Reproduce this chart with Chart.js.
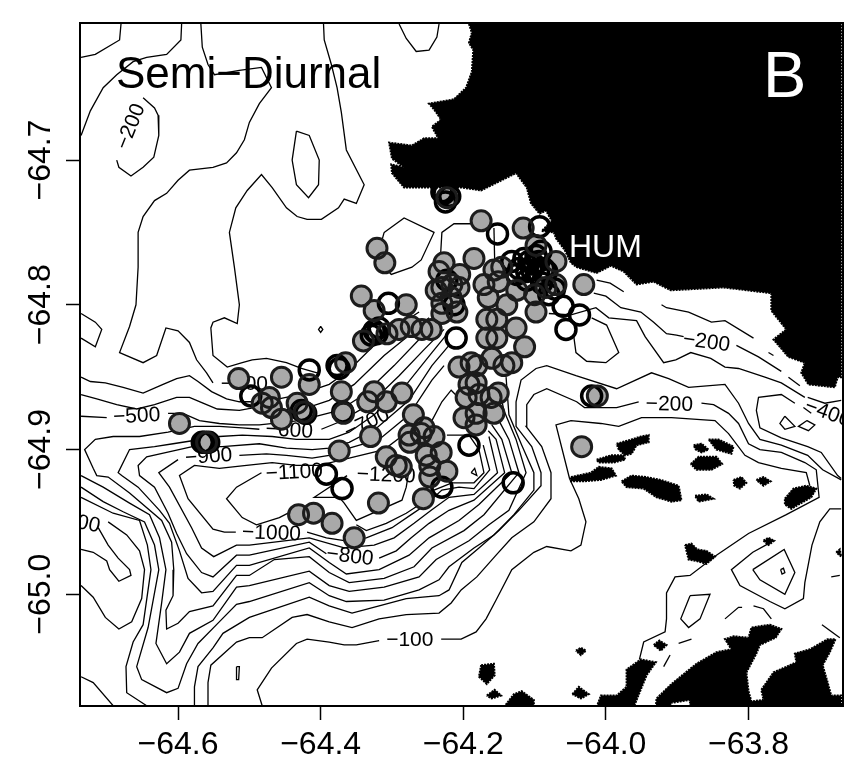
<!DOCTYPE html>
<html>
<head>
<meta charset="utf-8">
<style>html,body{margin:0;padding:0;background:#fff}canvas{display:block}</style>
<script src="https://cdn.jsdelivr.net/npm/chart.js@4"></script>
</head>
<body>
<canvas id="map" width="845" height="764"></canvas>
<script>
// axis ticks
const lonTicks = [-64.6, -64.4, -64.2, -64.0, -63.8];
const latTicks = [-64.7, -64.8, -64.9, -65.0];

// stations, flat lon,lat pairs
const stationsFilled = [-64.321,-64.761,-64.310,-64.771,-64.343,-64.794,-64.325,-64.804,-64.280,-64.800,-64.340,-64.825,-64.307,-64.820,-64.290,-64.817,-64.273,-64.815,-64.245,-64.817,-64.258,-64.817,-64.227,-64.771,-64.234,-64.777,-64.205,-64.779,-64.185,-64.768,-64.223,-64.726,-64.175,-64.742,-64.116,-64.747,-64.098,-64.759,-64.070,-64.770,-64.031,-64.786,-64.100,-64.793,-64.098,-64.805,-64.126,-64.816,-64.114,-64.829,-64.167,-64.810,-64.153,-64.810,-64.167,-64.823,-64.153,-64.823,-64.139,-64.800,-64.125,-64.790,-64.157,-64.776,-64.146,-64.774,-64.238,-64.790,-64.230,-64.788,-64.216,-64.786,-64.206,-64.788,-64.217,-64.795,-64.230,-64.799,-64.209,-64.805,-64.230,-64.806,-64.171,-64.786,-64.151,-64.784,-64.165,-64.795,-64.084,-64.788,-64.070,-64.786,
  -64.206,-64.843,-64.189,-64.840,-64.181,-64.842,-64.160,-64.837,-64.132,-64.840,-64.143,-64.842,-64.192,-64.855,-64.182,-64.854,-64.196,-64.864,-64.178,-64.862,-64.151,-64.861,-64.161,-64.864,-64.199,-64.878,-64.182,-64.875,-64.157,-64.875,-64.182,-64.883,-64.286,-64.861,-64.270,-64.876,-64.255,-64.885,-64.276,-64.890,-64.275,-64.895,-64.241,-64.891,-64.259,-64.889,-64.231,-64.902,-64.252,-64.904,-64.247,-64.911,-64.223,-64.915,-64.247,-64.919,-64.256,-64.934,-64.287,-64.912,-64.012,-64.863,-64.034,-64.898,
  -64.515,-64.851,-64.455,-64.850,-64.416,-64.855,-64.371,-64.860,-64.365,-64.840,-64.472,-64.864,-64.482,-64.868,-64.469,-64.871,-64.455,-64.879,-64.433,-64.868,-64.423,-64.874,-64.368,-64.875,-64.598,-64.882,-64.560,-64.895,-64.330,-64.891,-64.374,-64.901,-64.325,-64.860,-64.334,-64.867,-64.308,-64.867,-64.308,-64.905,-64.294,-64.911,-64.319,-64.937,-64.431,-64.945,-64.410,-64.944,-64.384,-64.951,-64.353,-64.961];
const stationsOpen = [-64.416,-64.845,-64.498,-64.863,-64.374,-64.844,-64.392,-64.917,-64.370,-64.927,-64.230,-64.926,-64.192,-64.897,-64.130,-64.923,-64.152,-64.751,-64.060,-64.801,-64.037,-64.807,-64.056,-64.817,-64.210,-64.823,-64.305,-64.799,
  -64.227,-64.723,-64.230,-64.722,-64.219,-64.725,-64.225,-64.729,-64.020,-64.863,-64.563,-64.895,-64.557,-64.895,-64.566,-64.895,-64.377,-64.842,-64.369,-64.874,-64.427,-64.873,-64.421,-64.875,
  -64.325,-64.818,-64.321,-64.820,-64.329,-64.821,-64.318,-64.816,-64.115,-64.768,-64.108,-64.770,-64.101,-64.772,-64.094,-64.770,-64.087,-64.775,-64.104,-64.776,-64.111,-64.777,-64.094,-64.779,-64.083,-64.777,-64.122,-64.775,-64.098,-64.766,-64.091,-64.763,-64.132,-64.770,-64.080,-64.793,-64.072,-64.789,-64.093,-64.746,-64.125,-64.779,-64.111,-64.783,-64.090,-64.785,-64.223,-64.783,-64.213,-64.800];

// isobaths (flat lon,lat pairs), pieces are split where a label sits
const cornerTopLeft = [-64.736,-64.629,-64.716,-64.627,-64.682,-64.617,-64.680,-64.606];
const shelfTop1 = [-64.595,-64.606,-64.596,-64.617,-64.616,-64.627,-64.644,-64.629,-64.663,-64.632,-64.686,-64.641,-64.705,-64.650,-64.723,-64.666,-64.736,-64.683];
const shelfTop2 = [-64.568,-64.606,-64.566,-64.622,-64.558,-64.634,-64.549,-64.641,-64.514,-64.638,-64.483,-64.636,-64.469,-64.650,-64.486,-64.661,-64.500,-64.674,-64.507,-64.686,-64.518,-64.695,-64.532,-64.702,-64.551,-64.705,-64.584,-64.707,-64.600,-64.714,-64.616,-64.723,-64.633,-64.728,-64.649,-64.739,-64.656,-64.750,-64.656,-64.774,-64.659,-64.800,-64.668,-64.815,-64.682,-64.833,-64.649,-64.840,-64.630,-64.835,-64.617,-64.816,-64.600,-64.818,-64.584,-64.826,-64.574,-64.838,-64.560,-64.847,-64.551,-64.854];
const shelfTop3 = [-64.396,-64.606,-64.395,-64.617,-64.385,-64.634,-64.377,-64.650,-64.371,-64.667,-64.364,-64.693,-64.339,-64.717,-64.350,-64.730,-64.367,-64.727,-64.375,-64.733,-64.399,-64.741,-64.419,-64.741,-64.433,-64.739,-64.448,-64.733,-64.468,-64.719,-64.483,-64.710,-64.503,-64.721,-64.519,-64.733,-64.528,-64.750,-64.521,-64.774,-64.514,-64.800,-64.517,-64.813,-64.535,-64.809,-64.551,-64.812,-64.554,-64.816,-64.551,-64.835,-64.531,-64.843,-64.510,-64.840,-64.496,-64.838,-64.476,-64.837,-64.448,-64.840,-64.427,-64.844,-64.405,-64.847];
const topBay = [-64.290,-64.606,-64.280,-64.616,-64.266,-64.625,-64.248,-64.624,-64.237,-64.615,-64.234,-64.606];
const ring200 = [-64.649,-64.657,-64.633,-64.664,-64.628,-64.669,-64.627,-64.683,-64.634,-64.698,-64.649,-64.705,-64.666,-64.711,-64.683,-64.705,-64.686,-64.700];
const ringA = [-64.434,-64.680,-64.416,-64.683,-64.402,-64.700,-64.403,-64.717,-64.417,-64.726,-64.434,-64.717,-64.440,-64.700,-64.434,-64.680];
const ringB = [-64.736,-64.806,-64.716,-64.812,-64.707,-64.817,-64.716,-64.829,-64.736,-64.823];
const ringC = [-64.400,-64.815,-64.397,-64.817,-64.400,-64.819,-64.403,-64.817,-64.400,-64.815];
const ringD = [-64.311,-64.750,-64.283,-64.740,-64.241,-64.750,-64.259,-64.769,-64.272,-64.774,-64.301,-64.779,-64.321,-64.768,-64.311,-64.750];
const clusterA = [-64.189,-64.744,-64.213,-64.744,-64.230,-64.750,-64.232,-64.767,-64.234,-64.783];
const clusterB = [-64.157,-64.747,-64.156,-64.769];
const iso300 = [-64.736,-64.850,-64.723,-64.853,-64.702,-64.854,-64.677,-64.857,-64.649,-64.861,-64.621,-64.855,-64.602,-64.851,-64.584,-64.849,-64.572,-64.853,-64.553,-64.860,-64.532,-64.865,-64.514,-64.867,-64.479,-64.867,-64.430,-64.862,-64.388,-64.855,-64.360,-64.845,-64.325,-64.828,-64.290,-64.814,-64.262,-64.805];
const iso400 = [-64.736,-64.862,-64.714,-64.865,-64.686,-64.869,-64.658,-64.872,-64.633,-64.869,-64.602,-64.864,-64.584,-64.864,-64.565,-64.868,-64.545,-64.872,-64.514,-64.873,-64.493,-64.871,-64.430,-64.873,-64.388,-64.866,-64.353,-64.855,-64.311,-64.835,-64.276,-64.821,-64.248,-64.809];
const iso500a = [-64.736,-64.877,-64.700,-64.878];
const iso500b = [-64.614,-64.875,-64.593,-64.875,-64.570,-64.880,-64.542,-64.882,-64.514,-64.883,-64.486,-64.883,-64.430,-64.880,-64.374,-64.873,-64.339,-64.862,-64.297,-64.842,-64.262,-64.824,-64.234,-64.812];
const iso600a = [-64.399,-64.886,-64.374,-64.881,-64.332,-64.869,-64.290,-64.849,-64.255,-64.831,-64.227,-64.817];
const iso600b = [-64.486,-64.886,-64.510,-64.885,-64.542,-64.884,-64.577,-64.884,-64.614,-64.888,-64.654,-64.891,-64.691,-64.891,-64.716,-64.893,-64.731,-64.900,-64.719,-64.913,-64.714,-64.918,-64.698,-64.919,-64.668,-64.930,-64.623,-64.949,-64.609,-64.964,-64.606,-64.983,-64.607,-65.001,-64.617,-65.011,-64.616,-65.024,-64.600,-65.020,-64.584,-65.012,-64.551,-65.008,-64.518,-64.987,-64.500,-64.987,-64.465,-64.976,-64.416,-64.974,-64.388,-64.985,-64.360,-64.992,-64.311,-64.989,-64.269,-64.981,-64.244,-64.968,-64.199,-64.956,-64.171,-64.945,-64.122,-64.916,-64.136,-64.893,-64.150,-64.880];
const iso700 = [-64.224,-64.821,-64.244,-64.833,-64.283,-64.857,-64.325,-64.876,-64.360,-64.888,-64.388,-64.893,-64.434,-64.893,-64.468,-64.891,-64.510,-64.890,-64.542,-64.891,-64.607,-64.896,-64.633,-64.898,-64.668,-64.900,-64.684,-64.916,-64.679,-64.918,-64.656,-64.926,-64.626,-64.942,-64.612,-64.951,-64.598,-64.970,-64.586,-64.989,-64.567,-64.999,-64.551,-64.998,-64.518,-64.980,-64.500,-64.980,-64.416,-64.968,-64.388,-64.978,-64.364,-64.986,-64.318,-64.983,-64.276,-64.973,-64.248,-64.961,-64.206,-64.949,-64.178,-64.938,-64.132,-64.916,-64.146,-64.893,-64.160,-64.883];
const iso800a = [-64.220,-64.828,-64.244,-64.842,-64.276,-64.866,-64.321,-64.885,-64.360,-64.895,-64.388,-64.899,-64.412,-64.900,-64.448,-64.899,-64.486,-64.896,-64.538,-64.898,-64.580,-64.898,-64.616,-64.902,-64.644,-64.905,-64.656,-64.911,-64.654,-64.918,-64.633,-64.926,-64.614,-64.944,-64.602,-64.958,-64.588,-64.972,-64.567,-64.985,-64.551,-64.988,-64.518,-64.973,-64.500,-64.973,-64.416,-64.964,-64.392,-64.972];
const iso800b = [-64.318,-64.975,-64.294,-64.970,-64.273,-64.961,-64.248,-64.951,-64.220,-64.942,-64.185,-64.935,-64.142,-64.916,-64.154,-64.893,-64.165,-64.887];
const iso900a = [-64.227,-64.842,-64.244,-64.852,-64.276,-64.876,-64.318,-64.893,-64.360,-64.899,-64.388,-64.904,-64.412,-64.906,-64.448,-64.904,-64.476,-64.903,-64.514,-64.904];
const iso900b = [-64.600,-64.907,-64.627,-64.916,-64.612,-64.926,-64.581,-64.954,-64.567,-64.968,-64.550,-64.974,-64.518,-64.966,-64.500,-64.966,-64.416,-64.961,-64.367,-64.968,-64.325,-64.966,-64.297,-64.961,-64.269,-64.951,-64.245,-64.942,-64.220,-64.933,-64.185,-64.931,-64.152,-64.916,-64.164,-64.891];
const iso1000a = [-64.279,-64.888,-64.311,-64.900,-64.360,-64.906,-64.402,-64.911,-64.434,-64.911,-64.468,-64.909,-64.504,-64.911,-64.542,-64.913,-64.577,-64.911,-64.598,-64.918,-64.586,-64.934,-64.551,-64.955,-64.535,-64.957,-64.519,-64.957];
const iso1000b = [-64.419,-64.957,-64.392,-64.961,-64.367,-64.963,-64.336,-64.961,-64.300,-64.954,-64.273,-64.945,-64.252,-64.938,-64.230,-64.928,-64.206,-64.926,-64.185,-64.927,-64.163,-64.914,-64.172,-64.897];
const iso1100a = [-64.483,-64.916,-64.518,-64.926,-64.532,-64.934,-64.510,-64.947,-64.490,-64.952,-64.458,-64.947,-64.430,-64.940];
const iso1100b = [-64.350,-64.952,-64.336,-64.956,-64.308,-64.951,-64.280,-64.944,-64.258,-64.937,-64.241,-64.928,-64.216,-64.923,-64.185,-64.923,-64.171,-64.916,-64.178,-64.900,-64.192,-64.890,-64.223,-64.890];
const iso1100c = [-64.255,-64.890,-64.244,-64.880,-64.230,-64.867,-64.217,-64.859,-64.209,-64.863];
const iso1200 = [-64.363,-64.918,-64.409,-64.933,-64.374,-64.933,-64.367,-64.937,-64.350,-64.949,-64.286,-64.935,-64.280,-64.926,-64.276,-64.914];
const slopeA = [-64.736,-64.918,-64.705,-64.926,-64.668,-64.937,-64.640,-64.945,-64.626,-64.961,-64.617,-64.983,-64.623,-65.006,-64.631,-65.034,-64.616,-65.048,-64.598,-65.040,-64.584,-65.027,-64.551,-65.018,-64.518,-64.995,-64.500,-64.994,-64.416,-64.984,-64.388,-64.994,-64.360,-64.998,-64.311,-64.995,-64.262,-64.988,-64.238,-64.976,-64.192,-64.963,-64.164,-64.952,-64.136,-64.942,-64.112,-64.916,-64.126,-64.893,-64.143,-64.873,-64.151,-64.855];
const slopeB = [-64.736,-64.926,-64.705,-64.936,-64.677,-64.943,-64.647,-64.950,-64.633,-64.966,-64.627,-64.983,-64.642,-65.023,-64.658,-65.050,-64.651,-65.059,-64.616,-65.068,-64.600,-65.065,-64.588,-65.048,-64.572,-65.034,-64.546,-65.021,-64.518,-65.007,-64.500,-65.005,-64.416,-64.992,-64.388,-65.001,-64.364,-65.005,-64.311,-65.004,-64.262,-64.997,-64.234,-64.990,-64.220,-64.981,-64.185,-64.968,-64.157,-64.959,-64.129,-64.945,-64.101,-64.928,-64.101,-64.916,-64.118,-64.897,-64.136,-64.876,-64.140,-64.850];
const slopeC = [-64.736,-64.933,-64.691,-64.944,-64.654,-64.949,-64.643,-64.966,-64.638,-64.983,-64.649,-65.021,-64.663,-65.033,-64.673,-65.050,-64.672,-65.068,-64.644,-65.077];
const slopeD = [-64.577,-65.077,-64.577,-65.064,-64.572,-65.050,-64.551,-65.037,-64.537,-65.027,-64.500,-65.016,-64.416,-65.002,-64.388,-65.008,-64.356,-65.013,-64.318,-65.008,-64.280,-65.003,-64.234,-65.001,-64.220,-64.997,-64.202,-64.978,-64.178,-64.968,-64.150,-64.956,-64.122,-64.942,-64.091,-64.925,-64.091,-64.916,-64.104,-64.898,-64.126,-64.884,-64.126,-64.867,-64.119,-64.852,-64.098,-64.844,-64.083,-64.842,-64.042,-64.849,-63.985,-64.858,-63.936,-64.847,-63.912,-64.851,-63.884,-64.857,-63.833,-64.855,-63.814,-64.868,-63.800,-64.882,-63.784,-64.893,-63.754,-64.897,-63.717,-64.904,-63.696,-64.914,-63.670,-64.921];
const iso200a = [-64.558,-65.077,-64.558,-65.061,-64.554,-65.049,-64.518,-65.033,-64.500,-65.030,-64.482,-65.030,-64.440,-65.016,-64.419,-65.014,-64.388,-65.019,-64.356,-65.023,-64.318,-65.017,-64.280,-65.014,-64.234,-65.013,-64.217,-65.006,-64.203,-64.997,-64.181,-64.988,-64.154,-64.973,-64.132,-64.961,-64.101,-64.950,-64.077,-64.934,-64.077,-64.916,-64.090,-64.898,-64.112,-64.884,-64.111,-64.869,-64.101,-64.862,-64.083,-64.858,-64.041,-64.867,-64.030,-64.871,-63.985,-64.871,-63.954,-64.867];
const iso200b = [-63.866,-64.868,-63.849,-64.869,-63.828,-64.875,-63.814,-64.882,-63.800,-64.896,-63.784,-64.900,-63.754,-64.902,-63.721,-64.909,-63.705,-64.914,-63.701,-64.933,-63.747,-64.945,-63.800,-64.958,-63.845,-64.973,-63.882,-64.987,-63.903,-64.988,-63.915,-64.999,-63.915,-65.017,-63.917,-65.026,-63.947,-65.033,-63.953,-65.045];
const iso100a = [-64.482,-65.077,-64.489,-65.066,-64.469,-65.051,-64.434,-65.034,-64.419,-65.031,-64.388,-65.033,-64.367,-65.035,-64.350,-65.035,-64.318,-65.032];
const iso100b = [-64.231,-65.031,-64.203,-65.031,-64.182,-65.026,-64.168,-65.017,-64.154,-65.004,-64.132,-64.983,-64.101,-64.971,-64.083,-64.967,-64.049,-64.970,-64.035,-64.966,-64.028,-64.950,-64.038,-64.934,-64.051,-64.920,-64.070,-64.883,-64.049,-64.880,-64.007,-64.882,-63.982,-64.884,-63.950,-64.878,-63.908,-64.878,-63.847,-64.880,-63.828,-64.889,-63.805,-64.904,-63.786,-64.909,-63.754,-64.913,-63.719,-64.916,-63.714,-64.925];
const loopE1 = [-63.670,-64.941,-63.686,-64.941,-63.700,-64.950,-63.711,-64.966,-63.721,-64.992,-63.723,-65.003,-63.749,-65.010,-63.770,-65.005,-63.812,-64.994,-63.824,-64.983,-63.794,-64.971,-63.772,-64.965];
const loopE2 = [-63.794,-64.983,-63.750,-64.969,-63.735,-64.985,-63.749,-65.000,-63.784,-64.990,-63.794,-64.983];
const loopE3 = [-63.755,-64.983,-63.751,-64.982,-63.749,-64.985,-63.753,-64.986,-63.755,-64.983];
const loopE4 = [-63.882,-65.001,-63.854,-65.000,-63.868,-65.017,-63.884,-65.023,-63.895,-65.017,-63.882,-65.001];
const dash1 = [-63.833,-65.017,-63.814,-65.009,-63.809,-65.009];
const dash2 = [-63.793,-65.008,-63.779,-65.010,-63.768,-65.017];
const dash3 = [-63.898,-65.034,-63.880,-65.031];
const dash4 = [-63.919,-65.050,-63.910,-65.042];
const dash5 = [-63.697,-65.021,-63.672,-65.030];
const dash6 = [-63.684,-64.988,-63.672,-64.987];
const iso400loop = [-63.735,-64.868,-63.754,-64.862,-63.786,-64.864,-63.789,-64.873,-63.784,-64.885,-63.754,-64.892,-63.717,-64.898,-63.698,-64.902,-63.675,-64.918,-63.670,-64.920];
const iso400tick = [-63.723,-64.871,-63.712,-64.875];
const diamond1 = [-63.749,-64.877,-63.735,-64.884,-63.749,-64.886,-63.756,-64.882,-63.749,-64.877];
const diamond2 = [-63.718,-64.880,-63.707,-64.883,-63.716,-64.887,-63.730,-64.884,-63.718,-64.880];
const coastA = [-63.922,-64.800,-63.915,-64.802,-63.884,-64.805,-63.852,-64.812,-63.833,-64.811,-63.793,-64.823];
const coastB = [-63.772,-64.833,-63.765,-64.835];
const coastC = [-63.744,-64.850,-63.728,-64.856];
const coastD = [-63.717,-64.864,-63.693,-64.868,-63.670,-64.866];
const coastE = [-64.017,-64.792,-64.000,-64.794,-63.979,-64.802,-63.951,-64.805,-63.933,-64.812,-63.915,-64.820,-63.901,-64.821,-63.891,-64.822];
const coastF = [-63.817,-64.828,-63.786,-64.836,-63.754,-64.846];
const coastG = [-64.013,-64.783,-63.994,-64.785,-63.975,-64.791];
const coastH = [-64.080,-64.806,-64.049,-64.807,-64.014,-64.802,-63.996,-64.809,-63.957,-64.811,-63.945,-64.822,-63.919,-64.840,-63.902,-64.838,-63.881,-64.833,-63.853,-64.837,-63.833,-64.843,-63.814,-64.844,-63.777,-64.850,-63.754,-64.854,-63.721,-64.864];
const bayLoop = [-64.020,-64.809,-63.999,-64.814,-63.982,-64.833,-64.000,-64.840,-64.027,-64.839,-64.042,-64.833,-64.045,-64.822];
const tinyA = [-64.189,-64.916,-64.184,-64.913,-64.181,-64.918,-64.189,-64.916];
const tinyB = [-64.518,-65.050,-64.514,-65.050,-64.515,-65.059,-64.518,-65.059,-64.518,-65.050];
const westA = [-64.736,-64.969,-64.719,-64.971,-64.700,-64.977,-64.696,-64.983,-64.683,-64.991,-64.666,-64.987,-64.668,-64.983,-64.684,-64.975,-64.698,-64.966,-64.712,-64.954];
const westB = [-64.736,-64.994,-64.719,-65.002,-64.702,-65.016,-64.683,-65.024,-64.665,-65.019,-64.651,-65.003,-64.647,-64.983,-64.654,-64.970,-64.672,-64.959,-64.698,-64.950];
const westC = [-64.736,-65.057,-64.719,-65.061,-64.691,-65.077];

const contours = [cornerTopLeft, shelfTop1, shelfTop2, shelfTop3, topBay, ring200, ringA, ringB, ringC, ringD, clusterA, clusterB, iso300, iso400, iso500a, iso500b, iso600a, iso600b, iso700, iso800a, iso800b, iso900a, iso900b, iso1000a, iso1000b, iso1100a, iso1100b, iso1100c, iso1200, slopeA, slopeB, slopeC, slopeD, iso200a, iso200b, iso100a, iso100b, loopE1, loopE2, loopE3, loopE4, dash1, dash2, dash3, dash4, dash5, dash6, iso400loop, iso400tick, diamond1, diamond2, coastA, coastB, coastC, coastD, coastE, coastF, coastG, coastH, bayLoop, tinyA, tinyB, westA, westB, westC];

// land outlines
const landNorth = [-64.192,-64.606,-64.188,-64.612,-64.192,-64.619,-64.186,-64.624,-64.188,-64.639,-64.196,-64.650,-64.213,-64.658,-64.248,-64.661,-64.241,-64.665,-64.231,-64.672,-64.244,-64.677,-64.235,-64.685,-64.255,-64.685,-64.272,-64.690,-64.304,-64.688,-64.300,-64.699,-64.283,-64.705,-64.301,-64.703,-64.300,-64.709,-64.283,-64.719,-64.255,-64.719,-64.202,-64.719,-64.175,-64.721,-64.126,-64.709,-64.111,-64.719,-64.105,-64.730,-64.093,-64.737,-64.084,-64.735,-64.076,-64.742,-64.090,-64.749,-64.073,-64.750,-64.070,-64.754,-64.058,-64.762,-64.049,-64.771,-64.041,-64.774,-64.013,-64.778,-63.993,-64.773,-63.975,-64.777,-63.957,-64.786,-63.933,-64.784,-63.909,-64.790,-63.835,-64.788,-63.768,-64.792,-63.768,-64.804,-63.747,-64.817,-63.765,-64.824,-63.744,-64.836,-63.721,-64.840,-63.726,-64.847,-63.716,-64.855,-63.679,-64.857,-63.675,-64.850,-63.670,-64.850,-63.670,-64.605,-64.192,-64.605];
const landSouth = [-63.930,-65.078,-63.929,-65.072,-63.908,-65.062,-63.873,-65.048,-63.845,-65.040,-63.824,-65.038,-63.833,-65.031,-63.821,-65.029,-63.800,-65.030,-63.796,-65.023,-63.770,-65.021,-63.754,-65.024,-63.762,-65.030,-63.784,-65.035,-63.789,-65.041,-63.803,-65.054,-63.800,-65.067,-63.796,-65.074,-63.779,-65.073,-63.782,-65.066,-63.765,-65.054,-63.733,-65.047,-63.735,-65.041,-63.714,-65.038,-63.689,-65.031,-63.678,-65.031,-63.686,-65.040,-63.696,-65.049,-63.689,-65.061,-63.684,-65.070,-63.670,-65.070,-63.670,-65.078,-63.882,-65.078,-63.882,-65.073,-63.908,-65.075,-63.910,-65.078];
const island1 = [-63.985,-64.896,-63.964,-64.893,-63.951,-64.891,-63.940,-64.890,-63.940,-64.895,-63.957,-64.897,-63.964,-64.903,-63.973,-64.904,-63.982,-64.900];
const island2 = [-64.013,-64.907,-63.993,-64.904,-63.975,-64.904,-63.973,-64.907,-63.989,-64.909,-64.010,-64.909];
const island3 = [-64.049,-64.919,-64.021,-64.916,-64.010,-64.912,-63.992,-64.913,-63.986,-64.918,-64.007,-64.921,-64.031,-64.922,-64.049,-64.922];
const island4 = [-63.978,-64.922,-63.964,-64.918,-63.944,-64.919,-63.923,-64.921,-63.898,-64.925,-63.894,-64.935,-63.908,-64.936,-63.929,-64.933,-63.947,-64.927,-63.971,-64.926];
const island5 = [-63.877,-64.897,-63.866,-64.896,-63.856,-64.900,-63.866,-64.902,-63.874,-64.900];
const island6 = [-63.856,-64.893,-63.842,-64.893,-63.821,-64.898,-63.824,-64.903,-63.845,-64.900];
const island7 = [-63.881,-64.910,-63.870,-64.905,-63.845,-64.905,-63.837,-64.910,-63.852,-64.914,-63.873,-64.914];
const island8 = [-63.875,-64.932,-63.859,-64.931,-63.849,-64.934,-63.870,-64.936];
const island9 = [-63.821,-64.921,-63.810,-64.919,-63.803,-64.923,-63.812,-64.927,-63.820,-64.925];
const island10 = [-63.789,-64.921,-63.779,-64.919,-63.769,-64.922,-63.779,-64.925];
const island11 = [-63.749,-64.934,-63.737,-64.927,-63.719,-64.925,-63.705,-64.927,-63.712,-64.933,-63.730,-64.938,-63.740,-64.941,-63.749,-64.938];
const island12 = [-63.779,-64.963,-63.772,-64.961,-63.764,-64.963,-63.772,-64.966];
const island13 = [-63.889,-64.966,-63.880,-64.965,-63.872,-64.969,-63.859,-64.970,-63.847,-64.974,-63.859,-64.979,-63.873,-64.977,-63.884,-64.976];
const island14 = [-63.933,-65.035,-63.925,-65.032,-63.915,-65.035,-63.923,-65.039];
const island15 = [-64.042,-65.039,-64.035,-65.037,-64.028,-65.039,-64.035,-65.042];
const island16 = [-64.175,-65.049,-64.157,-65.048,-64.156,-65.056,-64.167,-65.062,-64.178,-65.057];
const island17 = [-64.167,-65.070,-64.156,-65.066,-64.147,-65.070,-64.160,-65.072];
const island18 = [-64.047,-65.069,-64.038,-65.064,-64.024,-65.069,-64.035,-65.072];
const island19 = [-64.143,-65.078,-64.129,-65.069,-64.118,-65.067,-64.101,-65.073,-64.101,-65.078];
const island20 = [-64.013,-65.078,-64.007,-65.070,-63.985,-65.070,-63.971,-65.064,-63.971,-65.052,-63.951,-65.045,-63.930,-65.047,-63.943,-65.056,-63.961,-65.078];
const island21 = [-63.677,-64.971,-63.672,-64.969,-63.670,-64.974];
const land = [landNorth, landSouth, island1, island2, island3, island4, island5, island6, island7, island8, island9, island10, island11, island12, island13, island14, island15, island16, island17, island18, island19, island20, island21];

// contour labels
const labelText = ['\u2212200','\u2212300','\u2212500','\u2212600','\u2212700','\u2212900','\u22121100','\u22121200','\u22121000','\u2212800','\u2212100','\u2212900','\u2212200','\u2212200','\u2212400'];
const labelLon = [-64.666,-64.507,-64.658,-64.444,-64.335,-64.557,-64.437,-64.308,-64.469,-64.359,-64.275,-64.742,-63.911,-63.859,-63.689];
const labelLat = [-64.677,-64.855,-64.877,-64.887,-64.882,-64.905,-64.916,-64.918,-64.958,-64.974,-65.032,-64.950,-64.869,-64.826,-64.875];
const labelAngle = [-68,0,-3,3,-25,-4,-3,2,2,7,0,12,1,8,20];

const toXY = flat => {
  const pts = [];
  for (let i = 0; i < flat.length; i += 2) pts.push({x: flat[i], y: flat[i + 1]});
  return pts;
};

const datasets = [];
contours.forEach(c => datasets.push({
  data: toXY(c), showLine: true, borderColor: '#000', borderWidth: 1.3,
  pointRadius: 0, tension: 0, fill: false, order: 20
}));
land.forEach(l => {
  const pts = toXY(l);
  pts.push(pts[0]);
  datasets.push({
    data: pts, showLine: true, borderColor: '#000', borderWidth: 2, borderDash: [2, 1],
    backgroundColor: '#000', pointRadius: 0, tension: 0, fill: 'shape', order: 10
  });
});
// grey discs first, the rings of all stations go over them
datasets.push({label: 'stationFill', data: toXY(stationsFilled), showLine: false, pointRadius: 10,
  pointBackgroundColor: '#a9a9a9', pointBorderWidth: 0, order: 3});
datasets.push({label: 'openRings', data: toXY(stationsOpen), showLine: false, pointRadius: 10,
  pointBackgroundColor: 'transparent', pointBorderColor: '#000', pointBorderWidth: 3.5, order: 2});
datasets.push({label: 'filledRings', data: toXY(stationsFilled), showLine: false, pointRadius: 10,
  pointBackgroundColor: 'transparent', pointBorderColor: '#1c1c1c', pointBorderWidth: 3, order: 1});

const FONT = '"Liberation Sans", Arial, sans-serif';

const mapText = {
  id: 'mapText',
  beforeDatasetDraw(chart, args) {
    // contour labels sit under the stations
    if (chart.data.datasets[args.index].label !== 'stationFill') return;
    const {ctx, chartArea: a, scales: {x, y}} = chart;
    ctx.save();
    ctx.beginPath();
    ctx.rect(a.left, a.top, a.width, a.height);
    ctx.clip();
    ctx.font = '21px ' + FONT;
    ctx.fillStyle = '#000';
    ctx.textAlign = 'center';
    ctx.textBaseline = 'middle';
    labelText.forEach((t, i) => {
      ctx.save();
      ctx.translate(x.getPixelForValue(labelLon[i]), y.getPixelForValue(labelLat[i]));
      ctx.rotate(labelAngle[i] * Math.PI / 180);
      ctx.fillText(t, 0, 0);
      ctx.restore();
    });
    ctx.restore();
  },
  afterDatasetsDraw(chart) {
    const {ctx, chartArea: a} = chart;
    ctx.save();
    ctx.strokeStyle = '#000';
    ctx.lineWidth = 2;
    ctx.strokeRect(a.left, a.top, a.width, a.height);
    ctx.textBaseline = 'alphabetic';
    ctx.textAlign = 'left';
    ctx.fillStyle = '#000';
    ctx.font = '44px ' + FONT;
    ctx.fillText('Semi\u2212Diurnal', 116, 88);
    ctx.fillStyle = '#fff';
    ctx.font = '65px ' + FONT;
    ctx.fillText('B', 763, 97);
    ctx.font = '32px ' + FONT;
    ctx.fillText('HUM', 569, 257);
    ctx.restore();
  }
};

const tickText = v => '\u2212' + Math.abs(v).toFixed(1);

new Chart(document.getElementById('map'), {
  type: 'scatter',
  data: {datasets},
  plugins: [mapText],
  options: {
    responsive: false,
    animation: false,
    events: [],
    // autoPadding would keep room for the big point markers
    layout: {autoPadding: false, padding: {top: 23, right: 2, left: 0, bottom: 0}},
    plugins: {legend: {display: false}, tooltip: {enabled: false}},
    scales: {
      x: {
        type: 'linear', position: 'bottom', min: -64.7375, max: -63.6675,
        afterBuildTicks: s => { s.ticks = lonTicks.map(v => ({value: v})); },
        afterFit: s => { s.height = 58; s.paddingLeft = 0; s.paddingRight = 0; },
        grid: {drawOnChartArea: false, tickLength: 14, tickWidth: 1.5, tickColor: '#000'},
        border: {color: '#000', width: 2},
        ticks: {color: '#000', font: {family: FONT, size: 32}, padding: 6, maxRotation: 0, autoSkip: false, callback: tickText}
      },
      y: {
        type: 'linear', position: 'left', min: -65.0772, max: -64.6053,
        afterBuildTicks: s => { s.ticks = latTicks.map(v => ({value: v})); },
        afterFit: s => { s.width = 80; s.paddingTop = 0; s.paddingBottom = 0; },
        grid: {drawOnChartArea: false, tickLength: 14, tickWidth: 1.5, tickColor: '#000'},
        border: {color: '#000', width: 2},
        ticks: {color: '#000', font: {family: FONT, size: 32}, padding: -16, minRotation: 90, maxRotation: 90, crossAlign: 'center', autoSkip: false, callback: tickText}
      }
    }
  }
});
</script>
</body>
</html>
